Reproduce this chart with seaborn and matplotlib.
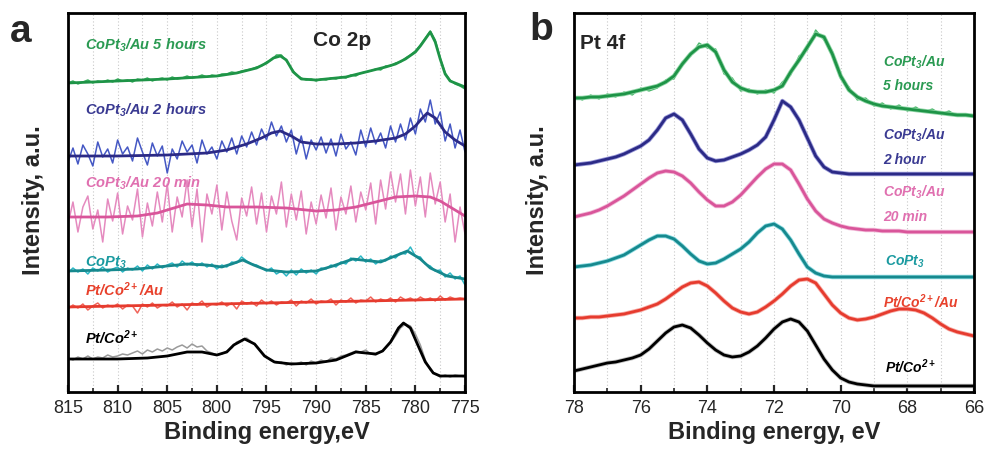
import numpy as np
import matplotlib
matplotlib.use("Agg")
import matplotlib.pyplot as plt
import matplotlib.patheffects as pe
from matplotlib.ticker import MultipleLocator
import seaborn as sns

# ---------------- panel a : Co 2p ----------------
# raw spectra sampled every 0.5 eV from 815 to 775
ENERGY_A = np.linspace(815, 775, 81)

RAW_5H = [309, 311, 308, 310, 312, 309, 311, 310, 312, 310, 313, 311, 312, 310, 313, 312, 314, 311, 313, 314,
          312, 315, 313, 314, 316, 314, 315, 317, 315, 317, 316, 318, 318, 320, 319, 321, 322, 323, 325, 326,
          330, 332, 337, 337, 331, 324, 317, 314, 312, 313, 311, 313, 312, 314, 313, 315, 314, 317, 316, 319,
          320, 321, 323, 322, 326, 326, 329, 330, 334, 337, 341, 347, 354, 361, 352, 334, 319, 312, 308, 306, 303]
RAW_2H = [230, 244, 228, 247, 238, 226, 250, 235, 243, 229, 252, 238, 245, 231, 254, 240, 227, 249, 236, 246,
          219, 243, 233, 251, 240, 247, 229, 252, 238, 245, 233, 251, 240, 254, 238, 256, 245, 260, 247, 263,
          252, 270, 256, 266, 250, 262, 238, 256, 233, 252, 242, 255, 239, 253, 236, 258, 243, 250, 237, 262,
          245, 264, 248, 259, 244, 266, 250, 268, 252, 274, 258, 283, 270, 292, 268, 280, 251, 268, 244, 262, 240]
RAW_20M = [168, 190, 160, 185, 196, 163, 182, 150, 193, 171, 199, 158, 186, 172, 203, 155, 189, 166, 200, 170,
           208, 160, 195, 175, 212, 165, 203, 150, 198, 178, 207, 162, 200, 171, 152, 194, 176, 205, 168, 199,
           160, 196, 178, 210, 165, 198, 172, 201, 158, 190, 168, 197, 174, 204, 162, 195, 178, 206, 170, 200,
           182, 209, 168, 212, 183, 220, 190, 218, 178, 222, 186, 215, 175, 219, 188, 210, 170, 198, 150, 185, 158]
RAW_COPT3 = [119, 124, 120, 123, 118, 124, 121, 125, 120, 123, 125, 120, 124, 122, 126, 121, 127, 123, 128, 124,
             127, 129, 125, 131, 127, 130, 126, 129, 125, 128, 123, 127, 125, 130, 129, 135, 131, 128, 127, 124,
             121, 124, 118, 121, 116, 122, 117, 123, 119, 122, 118, 124, 123, 127, 125, 130, 128, 134, 131, 136,
             130, 133, 128, 132, 131, 136, 134, 139, 138, 145, 136, 135, 128, 126, 121, 122, 115, 119, 113, 116, 107]
RAW_PTCO_AU = [83, 87, 84, 88, 82, 86, 89, 84, 87, 85, 88, 83, 87, 86, 79, 88, 85, 89, 84, 87,
               86, 90, 85, 88, 82, 89, 87, 91, 85, 88, 87, 90, 86, 89, 83, 91, 88, 90, 86, 92,
               88, 91, 87, 90, 89, 92, 86, 91, 89, 93, 88, 91, 90, 93, 87, 92, 90, 94, 89, 92,
               91, 95, 90, 93, 91, 94, 90, 95, 92, 94, 91, 95, 92, 94, 91, 96, 92, 95, 93, 94, 93]
RAW_PTCO = [34, 32, 35, 33, 36, 33, 35, 34, 37, 35, 36, 38, 37, 39, 41, 38, 42, 40, 43, 41,
            44, 42, 45, 47, 44, 48, 45, 46, 41, 39, 37, 38, 41, 44, 50, 52, 54, 50, 46, 40,
            35, 31, 29, 30, 27, 29, 28, 30, 27, 31, 29, 32, 30, 34, 33, 36, 37, 39, 41, 40,
            42, 38, 37, 40, 44, 49, 56, 64, 68, 66, 58, 47, 32, 22, 18, 15, 17, 15, 17, 16, 15]

# fitted envelopes (energy, intensity) pairs
FIT_5H_E = [815, 810, 805, 800, 798, 796, 795, 794.3, 793.6, 793, 792.3, 791.5, 790, 787, 785, 783, 782, 781,
            780, 779.5, 779, 778.5, 778, 777.5, 777, 776.5, 775]
FIT_5H_I = [309, 311, 313, 316, 319, 324, 329, 334, 336, 332, 320, 313, 312, 315, 320, 325, 328, 333,
            340, 346, 353, 360, 350, 333, 318, 311, 305]
FIT_2H_E = [815, 810, 805, 801, 799, 797, 795.5, 794.5, 793.6, 792.5, 791.5, 790, 788, 786, 784, 782, 781,
            780, 779.3, 778.8, 778, 777, 776, 775]
FIT_2H_I = [236, 236, 237, 239, 242, 248, 254, 259, 261, 256, 250, 248, 248, 249, 251, 254, 258,
            266, 274, 279, 274, 260, 252, 246]
FIT_20M_E = [815, 811, 808, 806, 804, 803, 801, 799, 796, 793, 790, 788, 786, 784, 782, 780, 778.5, 777.5,
             776.5, 775]
FIT_20M_I = [175, 175, 176, 179, 185, 188, 187, 185, 185, 184, 181, 182, 185, 190, 195, 196, 195, 191,
             185, 176]
FIT_COPT3_E = [815, 811, 808, 805, 803, 801, 799.5, 798.5, 797.4, 796.3, 795, 793, 790, 788.3, 786.3, 784.5,
               783.5, 782.3, 780.8, 779.5, 778.5, 776.8, 775]
FIT_COPT3_I = [121, 122, 123, 126, 128, 127, 125, 128, 132, 127, 122, 120, 121, 126, 133, 131,
               130, 135, 141, 133, 124, 116, 113]
FIT_PTCO_AU_E = [815, 805, 795, 785, 775]
FIT_PTCO_AU_I = [85, 87, 89, 91, 93]
FIT_PTCO_E = [815, 810, 807, 805, 803, 801.5, 800, 799, 798.3, 797.2, 796.2, 795.2, 794.2, 792.5, 790, 788,
              786, 784, 783.3, 782.5, 781.7, 781.2, 780.5, 779.8, 779, 778.2, 777.5, 775]
FIT_PTCO_I = [33, 33, 34, 36, 40, 40, 37, 40, 47, 53, 48, 36, 30, 28, 29, 32,
              40, 38, 41, 50, 64, 69, 64, 48, 30, 19, 16, 16]

# ---------------- panel b : Pt 4f ----------------
ENERGY_B = np.linspace(78, 66, 49)

PT_5H = [294, 294, 295, 295, 296, 297, 298, 300, 302, 304, 306, 310, 316, 328, 338, 345, 347, 340, 322, 310,
         304, 301, 300, 300, 302, 306, 320, 332, 345, 358, 355, 338, 316, 302, 295, 291, 288, 286, 285, 284,
         283, 282, 281, 280, 279, 278, 277, 277, 276]
PT_5H_RAW = [296, 292, 297, 293, 298, 295, 300, 297, 304, 301, 304, 312, 313, 330, 336, 349, 344, 343, 318, 314,
             301, 303, 298, 302, 299, 310, 317, 336, 342, 362, 352, 341, 313, 305, 292, 294, 286, 289, 283, 287,
             281, 285, 280, 283, 278, 281, 276, 278, 275]
PT_2H = [227, 228, 229, 231, 233, 235, 238, 242, 246, 252, 262, 274, 278, 272, 258, 243, 234, 231, 232, 235,
         238, 242, 247, 255, 272, 291, 285, 272, 254, 236, 225, 220, 219, 218, 218, 218, 218, 218, 218, 218,
         218, 218, 218, 218, 218, 218, 218, 218, 218]
PT_20M = [175, 177, 179, 182, 186, 191, 196, 202, 208, 214, 219, 221, 220, 216, 209, 200, 192, 186, 186, 190,
          197, 206, 215, 223, 228, 228, 222, 208, 193, 181, 173, 169, 166, 164, 163, 162, 162, 161, 161, 161,
          160, 160, 160, 160, 160, 160, 160, 160, 160]
PT_COPT3 = [125, 126, 127, 129, 131, 134, 137, 142, 147, 152, 156, 156, 153, 146, 138, 131, 128, 129, 133, 138,
            143, 150, 159, 166, 168, 163, 152, 138, 125, 119, 116, 115, 115, 115, 115, 115, 115, 115, 115, 115,
            115, 115, 115, 115, 115, 115, 115, 115, 115]
PT_PTCO_AU = [74, 74, 75, 75, 76, 77, 78, 80, 82, 85, 88, 93, 99, 105, 109, 110, 106, 99, 91, 84,
              80, 78, 80, 85, 91, 98, 106, 112, 113, 109, 98, 87, 79, 74, 72, 73, 75, 78, 81, 83,
              83, 82, 79, 74, 68, 63, 60, 58, 56]
PT_PTCO = [21, 23, 25, 27, 29, 30, 32, 34, 37, 43, 51, 59, 65, 67, 64, 57, 49, 42, 37, 35,
           36, 40, 46, 54, 63, 70, 73, 70, 61, 47, 33, 22, 14, 10, 8, 7, 6, 6, 6, 6,
           6, 6, 6, 6, 6, 6, 6, 6, 6]

GREEN, BLUE, PINK, TEAL, RED = "#1e9447", "#2b2a86", "#d9559a", "#16898e", "#e63b2e"


def style_axes(ax, xlim, major, minor):
    ax.set_xlim(*xlim)
    ax.set_ylim(0, 379)
    ax.xaxis.set_major_locator(MultipleLocator(major))
    ax.xaxis.set_minor_locator(MultipleLocator(minor))
    ax.set_yticks([])
    ax.xaxis.grid(True, which="both", linestyle=(0, (1, 2)), color="#c8c8c8", lw=0.8)
    ax.set_axisbelow(True)
    for s in ax.spines.values():
        s.set_linewidth(2)
        s.set_color("black")
    ax.tick_params(axis="x", which="major", direction="in", length=5, width=1.6,
                   labelsize=13, pad=5, bottom=True, top=False)
    ax.tick_params(axis="x", which="minor", direction="in", length=3, width=1.2, bottom=True, top=False)
    ax.set_ylabel("Intensity, a.u.", fontsize=17, fontweight="bold")


def label(ax, x, y, s, color, size=10):
    ax.text(x, y, s, transform=ax.transAxes, color=color, fontsize=size, fontweight="bold",
            fontstyle="italic", va="center")


def main():
    sns.set_style("white")
    plt.rcParams["font.family"] = ["Liberation Sans", "DejaVu Sans"]
    plt.rcParams["mathtext.fontset"] = "custom"
    plt.rcParams["mathtext.rm"] = "Liberation Sans:italic:bold"
    plt.rcParams["mathtext.it"] = "Liberation Sans:italic:bold"
    plt.rcParams["mathtext.bf"] = "Liberation Sans:italic:bold"

    fig = plt.figure(figsize=(9.85, 4.6), dpi=100)
    ax_a = fig.add_axes([68 / 985, 67 / 460, 397 / 985, 379 / 460])
    ax_b = fig.add_axes([574 / 985, 67 / 460, 400 / 985, 379 / 460])

    # panel a: raw data (thin, lighter) + fit (thick)
    raw_a = [(RAW_5H, "#39ad5e"), (RAW_2H, "#4558c4"), (RAW_20M, "#e58abf"),
             (RAW_COPT3, "#2db8c6"), (RAW_PTCO_AU, "#f0645a"), (RAW_PTCO, "#9a9a9a")]
    for vals, col in raw_a:
        sns.lineplot(x=ENERGY_A, y=vals, ax=ax_a, color=col, lw=1.1)
    fits_a = [(FIT_5H_E, FIT_5H_I, GREEN), (FIT_2H_E, FIT_2H_I, BLUE), (FIT_20M_E, FIT_20M_I, PINK),
              (FIT_COPT3_E, FIT_COPT3_I, TEAL), (FIT_PTCO_AU_E, FIT_PTCO_AU_I, RED),
              (FIT_PTCO_E, FIT_PTCO_I, "black")]
    for e, i, col in fits_a:
        sns.lineplot(x=e, y=i, ax=ax_a, color=col, lw=2.0)

    style_axes(ax_a, (815, 775), 5, 2.5)
    ax_a.yaxis.set_label_coords(-0.058, 0.51)
    ax_a.set_xlabel("Binding energy,eV", fontsize=17, fontweight="bold", labelpad=3)

    label(ax_a, 0.043, 0.918, r"CoPt$_3$/Au 5 hours", "#2a9a52", 10.5)
    label(ax_a, 0.043, 0.747, r"CoPt$_3$/Au 2 hours", "#3a3a92", 10.5)
    label(ax_a, 0.043, 0.554, r"CoPt$_3$/Au 20 min", "#e070b0", 10.5)
    label(ax_a, 0.043, 0.343, r"CoPt$_3$", "#1a9aa0", 10.5)
    label(ax_a, 0.043, 0.272, r"Pt/Co$^{2+}$/Au", "#e8412c", 10.5)
    label(ax_a, 0.043, 0.145, r"Pt/Co$^{2+}$", "black", 10.5)
    ax_a.text(0.69, 0.929, "Co 2p", transform=ax_a.transAxes, fontsize=15, fontweight="bold",
              ha="center", va="center")

    # panel b
    sns.lineplot(x=ENERGY_B, y=PT_5H_RAW, ax=ax_b, color="#4cb86c", lw=1.0)
    fits_b = [(PT_5H, GREEN, "#8fd6a6"), (PT_2H, BLUE, "#9a9ad8"), (PT_20M, PINK, "#f2bcd9"),
              (PT_COPT3, TEAL, "#8cdae0"), (PT_PTCO_AU, RED, "#f7aca6"), (PT_PTCO, "black", "#c0c0c0")]
    for vals, col, halo in fits_b:
        sns.lineplot(x=ENERGY_B, y=vals, ax=ax_b, color=col, lw=2.0,
                     path_effects=[pe.Stroke(linewidth=3.2, foreground=halo), pe.Normal()])

    style_axes(ax_b, (78, 66), 2, 1)
    ax_b.yaxis.set_label_coords(-0.062, 0.51)
    ax_b.set_xlabel("Binding energy, eV", fontsize=17, fontweight="bold", labelpad=3)

    label(ax_b, 0.773, 0.873, r"CoPt$_3$/Au", "#2a9a52")
    label(ax_b, 0.773, 0.810, "5 hours", "#2a9a52")
    label(ax_b, 0.773, 0.681, r"CoPt$_3$/Au", "#3a3a92")
    label(ax_b, 0.773, 0.615, "2 hour", "#3a3a92")
    label(ax_b, 0.773, 0.530, r"CoPt$_3$/Au", "#e070b0")
    label(ax_b, 0.773, 0.464, "20 min", "#e070b0")
    label(ax_b, 0.778, 0.346, r"CoPt$_3$", "#1a9aa0")
    label(ax_b, 0.773, 0.240, r"Pt/Co$^{2+}$/Au", "#e8412c")
    label(ax_b, 0.778, 0.069, r"Pt/Co$^{2+}$", "black")
    ax_b.text(0.015, 0.923, "Pt 4f", transform=ax_b.transAxes, fontsize=15, fontweight="bold",
              ha="left", va="center")

    fig.text(10 / 985, 1 - 32 / 460, "a", fontsize=28, fontweight="bold", va="center")
    fig.text(529 / 985, 1 - 30 / 460, "b", fontsize=28, fontweight="bold", va="center")

    fig.savefig("out.png", dpi=100)


if __name__ == "__main__":
    main()
